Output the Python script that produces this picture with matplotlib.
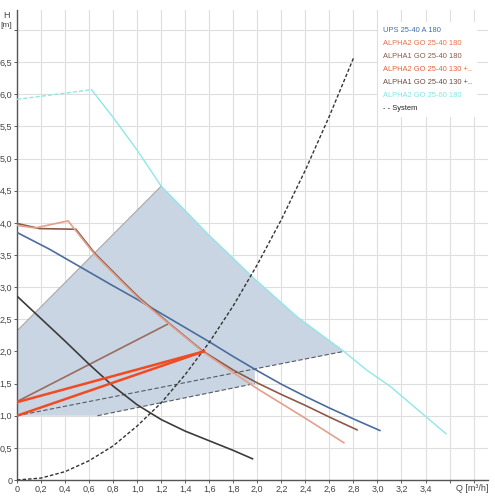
import matplotlib
matplotlib.use("Agg")
import matplotlib.pyplot as plt
from matplotlib.lines import Line2D
from matplotlib.patches import Polygon

plt.rcParams['font.family'] = ['Liberation Sans', 'DejaVu Sans']

# --- data (Q in m3/h, H in m) ---
ups_q = [0, 0.27, 0.79, 1.0, 1.4, 1.6, 1.8, 2.0, 2.2, 2.4, 2.6, 2.8, 3.02]
ups_h = [3.85, 3.59, 3.03, 2.81, 2.37, 2.15, 1.92, 1.70, 1.49, 1.30, 1.12, 0.95, 0.77]

a2_180_q = [0, 0.15, 0.425, 0.65, 0.9, 1.02, 1.27, 1.55, 1.8, 2.0, 2.2, 2.4, 2.72]
a2_180_h = [3.96, 3.92, 4.03, 3.50, 3.03, 2.81, 2.42, 1.99, 1.67, 1.42, 1.19, 0.96, 0.58]

a1_180_q = [0, 0.19, 0.49, 0.65, 0.9, 1.02, 1.27, 1.55, 1.8, 2.0, 2.2, 2.4, 2.61, 2.83]
a1_180_h = [3.99, 3.91, 3.90, 3.52, 3.05, 2.83, 2.43, 2.00, 1.71, 1.51, 1.33, 1.16, 0.97, 0.78]

a2_130_upper_q = [0, 1.555]
a2_130_upper_h = [1.21, 2.00]
a2_130_lower_q = [0, 1.555]
a2_130_lower_h = [1.00, 2.00]

a1_130_q = [0, 1.25]
a1_130_h = [1.22, 2.42]

dark_q = [0, 0.2, 0.4, 0.6, 0.8, 1.0, 1.2, 1.4, 1.6, 1.8, 1.96]
dark_h = [2.86, 2.51, 2.16, 1.80, 1.46, 1.17, 0.94, 0.76, 0.61, 0.46, 0.33]

a2_2560_q = [0, 0.62, 0.8, 1.0, 1.2, 1.4, 1.58, 1.97, 2.33, 2.72, 2.91, 3.11, 3.57]
a2_2560_h = [5.92, 6.07, 5.64, 5.13, 4.57, 4.19, 3.84, 3.14, 2.54, 2.00, 1.71, 1.45, 0.72]

system_q = [0, 0.2, 0.4, 0.6, 0.8, 1.0, 1.2, 1.4, 1.6, 1.8, 2.0, 2.2, 2.4, 2.6, 2.8]
system_h = [0, 0.03, 0.13, 0.30, 0.53, 0.84, 1.20, 1.64, 2.14, 2.71, 3.35, 4.05, 4.82, 5.66, 6.56]

# operating area corners
area_top_left = (0, 2.32)
area_bottom = [(0, 1.0), (0.67, 1.0), (1.98, 1.50), (1.98, 1.73)]
upper_line_q = [0, 2.72]
upper_line_h = [1.0, 2.0]
lower_line_q = [0.67, 1.98]
lower_line_h = [1.0, 1.50]

legend_labels = ['UPS 25-40 A 180', 'ALPHA2 GO 25-40 180', 'ALPHA1 GO 25-40 180',
                 'ALPHA2 GO 25-40 130 +..', 'ALPHA1 GO 25-40 130 +..',
                 'ALPHA2 GO 25-60 180', '- - System']
legend_colors = ['#3d6ea8', '#e8704a', '#8a5a4a', '#e8603a', '#6a4a40', '#80e6e6', '#222222']

x_ticks = [round(0.2 * i, 1) for i in range(20)]
y_ticks = [0.5 * i for i in range(15)]

# --- figure ---
fig = plt.figure(figsize=(4.95, 5.0), dpi=100)
ax = fig.add_axes([17 / 495, 20 / 500, 471 / 495, 470 / 500])
ax.set_xlim(0, 3.92)
ax.set_ylim(0, 7.31)

ax.set_xticks(x_ticks)
ax.set_xticklabels([('0' if v == 0 else f'{v:.1f}'.replace('.', ',')) if v <= 3.41 else ''
                    for v in x_ticks])
ax.set_yticks(y_ticks)
ax.set_yticklabels([('0' if v == 0 else f'{v:.1f}'.replace('.', ',')) if v <= 6.6 else ''
                    for v in y_ticks])
ax.tick_params(labelsize=6.5, length=2, width=0.6, pad=1.5, colors='#444444')
ax.grid(True, color='#dedede', linewidth=0.8)
ax.set_axisbelow(True)
for s in ['top', 'right']:
    ax.spines[s].set_visible(False)
for s in ['left', 'bottom']:
    ax.spines[s].set_color('#555555')
    ax.spines[s].set_linewidth(1.0)

# operating area (grey)
edge = [(q, h) for q, h in zip(a2_2560_q, a2_2560_h) if 1.2 <= q <= 2.72]
verts = area_bottom + edge[::-1] + [area_top_left]
ax.add_patch(Polygon(verts, closed=True, facecolor='#c9d5e2', edgecolor='none', zorder=1))
ax.plot([area_top_left[0], edge[0][0]], [area_top_left[1], edge[0][1]],
        color='#a8a8a8', lw=0.8, zorder=1.5)
ax.plot(upper_line_q, upper_line_h, color='#555a66', lw=0.8, ls=(0, (4, 2)), zorder=2)
ax.plot(lower_line_q, lower_line_h, color='#555a66', lw=0.8, ls=(0, (4, 2)), zorder=2)

# pump curves
ax.plot(a2_2560_q[:2], a2_2560_h[:2], color='#8ee8e8', lw=1.0, ls=(0, (3, 1.5)), zorder=3)
ax.plot(a2_2560_q[1:], a2_2560_h[1:], color='#8ee8e8', lw=1.0, zorder=3)
ax.plot(ups_q, ups_h, color='#4a6d9c', lw=1.2, zorder=3)
ax.plot(a1_180_q, a1_180_h, color='#8c5a48', lw=1.2, zorder=3)
ax.plot(a2_180_q, a2_180_h, color='#e3a08c', lw=1.2, zorder=3)
ax.plot(a1_130_q, a1_130_h, color='#9a6c60', lw=1.2, zorder=3)
ax.plot(a2_130_upper_q, a2_130_upper_h, color='#f04b23', lw=1.8, zorder=4)
ax.plot(a2_130_lower_q, a2_130_lower_h, color='#f04b23', lw=1.8, zorder=4)
ax.plot(dark_q, dark_h, color='#3c3c3c', lw=1.2, zorder=3)
ax.plot(system_q, system_h, color='#333333', lw=1.0, ls=(0, (2.5, 1.5)), zorder=3)

# axis titles
ax.text(-0.086, 7.23, 'H', fontsize=6.5, color='#444444', ha='center', va='center', clip_on=False)
ax.text(-0.086, 7.07, '[m]', fontsize=6, color='#444444', ha='center', va='center', clip_on=False)
ax.text(3.65, -0.13, 'Q [m³/h]', fontsize=6.5, color='#444444', ha='left', va='center', clip_on=False)

# legend
handles = [Line2D([], [], linestyle='none') for _ in legend_labels]
leg = ax.legend(handles, legend_labels, loc='upper left', bbox_to_anchor=(0.766, 0.975),
                borderaxespad=0, frameon=True, facecolor='white', edgecolor='none',
                framealpha=1, fontsize=5.4, handlelength=0, handletextpad=0,
                labelspacing=0.75, borderpad=0.7, labelcolor=legend_colors)
leg.get_frame().set_boxstyle('square', pad=0)
leg.set_zorder(10)

fig.savefig('out.png', dpi=100)
